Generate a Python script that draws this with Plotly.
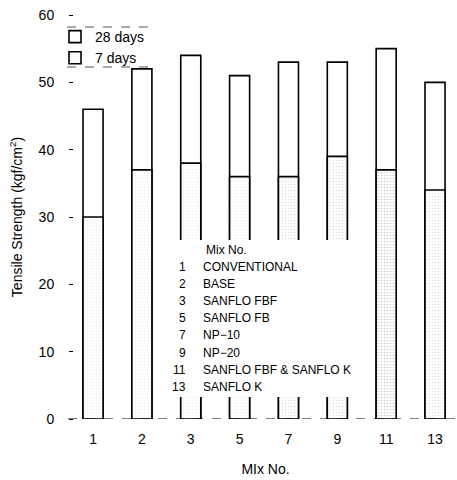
import plotly.graph_objects as go

mix_labels = ["1", "2", "3", "5", "7", "9", "11", "13"]
days28 = [46, 52, 54, 51, 53, 53, 55, 50]
days7 = [30, 37, 38, 36, 36, 39, 37, 34]
key_numbers = ["1", "2", "3", "5", "7", "9", "11", "13"]
key_names = ["CONVENTIONAL", "BASE", "SANFLO FBF", "SANFLO FB", "NP\u221210",
             "NP\u221220", "SANFLO FBF & SANFLO K", "SANFLO K"]
y_ticks = [0, 10, 20, 30, 40, 50, 60]

W, H = 457, 480
L, R, T, B = 74, 0, 15, 61
xr = [-0.39, 7.45]
yr = [0, 60]
pw, ph = W - L - R, H - T - B

def px_to_paper_x(px):
    return (px - L) / pw

def px_to_paper_y(py):
    return (H - B - py) / ph

xs = list(range(len(mix_labels)))
stipple = ["#e4e4e4", "#e4e4e4", "#e4e4e4", "#e4e4e4", "#c8c8c8", "#c8c8c8", "#a0a0a0", "#c8c8c8"]

fig = go.Figure()
fig.add_trace(go.Bar(
    x=xs, y=days28, name="28 days", width=0.41,
    marker=dict(color="white", line=dict(color="black", width=1.6)),
))
fig.add_trace(go.Bar(
    x=xs, y=days7, name="7 days", width=0.41,
    marker=dict(color="white", line=dict(color="black", width=1.6),
                pattern=dict(shape=".", fgcolor=stipple, bgcolor="white",
                             size=3, solidity=0.25)),
))

shapes = []
# white box behind the key
shapes.append(dict(type="rect", xref="paper", yref="paper",
                   x0=px_to_paper_x(156), x1=px_to_paper_x(364),
                   y0=px_to_paper_y(397), y1=px_to_paper_y(240),
                   fillcolor="white", line=dict(width=0), layer="above"))
# zero line (dashed)
shapes.append(dict(type="line", xref="paper", yref="y",
                   x0=px_to_paper_x(68), x1=1, y0=0, y1=0,
                   line=dict(color="black", width=1.2, dash="dash"), layer="above"))
# legend dashed borders
for py in (27, 67):
    shapes.append(dict(type="line", xref="paper", yref="paper",
                       x0=px_to_paper_x(67), x1=px_to_paper_x(150),
                       y0=px_to_paper_y(py), y1=px_to_paper_y(py),
                       line=dict(color="#555", width=1, dash="dash")))

annotations = []
annotations.append(dict(text="Mix No.", xref="paper", yref="paper",
                        x=px_to_paper_x(204), y=px_to_paper_y(250),
                        xanchor="left", yanchor="middle", showarrow=False,
                        font=dict(size=12)))
for i, (num, name) in enumerate(zip(key_numbers, key_names)):
    yy = px_to_paper_y(267 + 17.1 * i)
    annotations.append(dict(text=num, xref="paper", yref="paper",
                            x=px_to_paper_x(188), y=yy,
                            xanchor="right", yanchor="middle", showarrow=False,
                            font=dict(size=12)))
    annotations.append(dict(text=name, xref="paper", yref="paper",
                            x=px_to_paper_x(201), y=yy,
                            xanchor="left", yanchor="middle", showarrow=False,
                            font=dict(size=12)))

fig.update_layout(
    width=W, height=H,
    margin=dict(l=L, r=R, t=T, b=B, pad=0),
    barmode="overlay",
    plot_bgcolor="white", paper_bgcolor="white",
    font=dict(family="Liberation Sans, Arial, sans-serif", size=14, color="black"),
    showlegend=True,
    legend=dict(x=px_to_paper_x(55), y=px_to_paper_y(21), xanchor="left", yanchor="top",
                bgcolor="rgba(0,0,0,0)", borderwidth=0, traceorder="normal",
                itemwidth=30, tracegroupgap=0,
                font=dict(size=14)),
    shapes=shapes,
    annotations=annotations,
    xaxis=dict(range=xr, tickmode="array", tickvals=xs, ticktext=mix_labels,
               showgrid=False, zeroline=False, showline=False, ticks="",
               ticklabelstandoff=10,
               title=dict(text="MIx No.", standoff=18, font=dict(size=14))),
    yaxis=dict(range=yr, tickmode="array", tickvals=y_ticks,
               showgrid=False, zeroline=False, showline=False,
               ticks="outside", ticklen=4, tickcolor="black", tickwidth=1,
               ticklabelstandoff=12,
               title=dict(text="Tensile Strength (kgf/cm<sup>2</sup>)", standoff=12,
                          font=dict(size=14))),
)

fig.write_html("out.html")
